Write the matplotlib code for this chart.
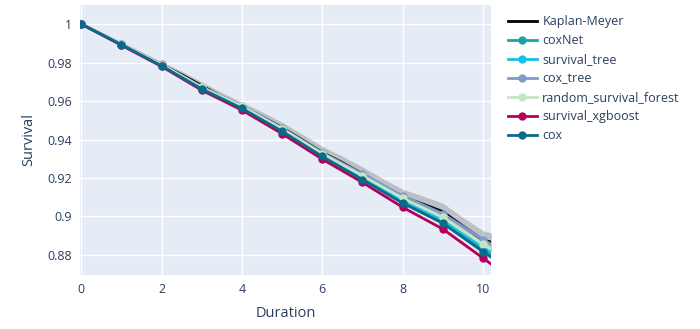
import matplotlib
matplotlib.use("Agg")
import matplotlib.pyplot as plt
from matplotlib.ticker import FuncFormatter

plt.rcParams["font.family"] = ["Open Sans", "DejaVu Sans"]

# ---- data ----
durations = [0, 1, 2, 3, 4, 5, 6, 7, 8, 9, 10, 11]
coxnet = [1, .9894, .9785, .9665, .9565, .9447, .9316, .9198, .9078, .8975, .8830, .8700]
survival_tree = [1, .9895, .9787, .9668, .9568, .9451, .9321, .9204, .9085, .8982, .8842, .8715]
cox_tree = [1, .9897, .9791, .9674, .9575, .9460, .9331, .9222, .9107, .9015, .8880, .8760]
random_survival_forest = [1, .9896, .9789, .9671, .9572, .9455, .9326, .9212, .9095, .8995, .8855, .8730]
survival_xgboost = [1, .9890, .9780, .9656, .9553, .9430, .9298, .9177, .9048, .8935, .8784, .8630]
cox = [1, .9893, .9783, .9663, .9562, .9443, .9312, .9192, .9070, .8965, .8817, .8680]

km_t = [0, .5, 1, 1.5, 2, 2.5, 3, 3.5, 4, 4.5, 5, 5.5, 6, 6.5, 7, 7.5, 8, 8.5, 9, 9.5, 10, 10.5]
km_s = [1, .9948, .9895, .9842, .9788, .9737, .9680, .9622, .9570, .9518, .9462, .9398, .9333, .9280, .9222, .9160, .9102, .9065, .9025, .8950, .8878, .8850]
km_lo = [1, .9940, .9884, .9828, .9772, .9719, .9660, .9600, .9546, .9492, .9434, .9368, .9301, .9246, .9186, .9122, .9062, .9023, .8981, .8904, .8830, .8800]
km_hi = [1, .9956, .9906, .9856, .9804, .9755, .9700, .9644, .9594, .9544, .9490, .9428, .9365, .9314, .9258, .9198, .9142, .9107, .9069, .8996, .8926, .8900]

series = [
    ("coxNet", coxnet, "#1aa3ac"),
    ("survival_tree", survival_tree, "#17c0e8"),
    ("cox_tree", cox_tree, "#7f9bcb"),
    ("random_survival_forest", random_survival_forest, "#c3e6c3"),
    ("survival_xgboost", survival_xgboost, "#b5005b"),
    ("cox", cox, "#0b6a8a"),
]

fig = plt.figure(figsize=(7, 3.29), dpi=100)
ax = fig.add_axes([80/700, 1-275/329, 411/700, 270/329])
ax.set_facecolor("#E5ECF6")
for s in ax.spines.values():
    s.set_visible(False)
ax.grid(True, color="white", linewidth=1.0)
ax.set_axisbelow(True)

ax.fill_between(km_t, km_lo, km_hi, color="#8c8c8c", alpha=0.45, linewidth=0, zorder=2)
ax.plot(km_t, km_s, color="black", linewidth=2, label="Kaplan-Meyer", zorder=3)
for name, vals, col in series:
    ax.plot(durations, vals, color=col, linewidth=2.0, marker="o", markersize=5,
            label=name, zorder=4)

ax.set_xlim(-0.03, 10.2)
ax.set_ylim(0.8696, 1.0099)
ax.set_xticks([0, 2, 4, 6, 8, 10])
ax.set_yticks([0.88, 0.9, 0.92, 0.94, 0.96, 0.98, 1.0])
ax.yaxis.set_major_formatter(FuncFormatter(lambda v, p: f"{v:.2f}".rstrip("0").rstrip(".")))
ax.tick_params(axis="both", length=0, labelsize=9, colors="#2a3f5f", pad=6)
ax.set_xlabel("Duration", fontsize=10.5, color="#2a3f5f", labelpad=7)
ax.set_ylabel("Survival", fontsize=10.5, color="#2a3f5f", labelpad=8)

leg = fig.legend(loc="upper left", bbox_to_anchor=(503/700, 1-10/329), frameon=False,
                 fontsize=9, handlelength=2.3, handletextpad=0.45, labelspacing=0.48,
                 borderaxespad=0)
for t in leg.get_texts():
    t.set_color("#2a3f5f")

fig.savefig("out.png", dpi=100)
